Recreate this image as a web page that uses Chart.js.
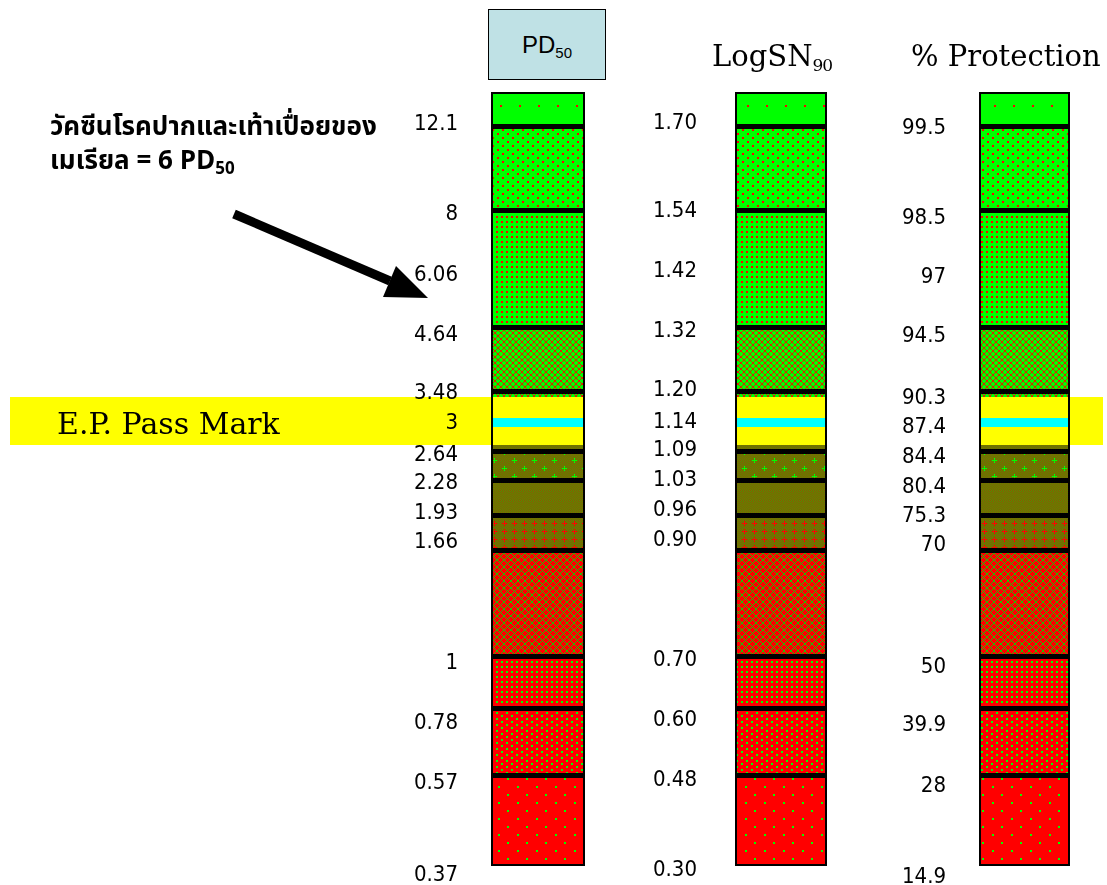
<!DOCTYPE html>
<html>
<head>
<meta charset="utf-8">
<script src="https://cdn.jsdelivr.net/npm/chart.js@4.4.1/dist/chart.umd.min.js"></script>
<style>
  html, body { margin: 0; padding: 0; background: #fff; }
  #page { position: relative; width: 1107px; height: 885px; overflow: hidden; }
  canvas { position: absolute; left: 0; top: 0; }
  .hdr { position: absolute; font-family: 'DejaVu Serif', 'Liberation Serif', serif; font-size: 29px; color: #000; white-space: nowrap; line-height: 1; }
  .hdr sub { font-size: 17px; vertical-align: -5px; letter-spacing: -1px; }
  #pdBox { position: absolute; left: 488px; top: 9px; width: 116px; height: 69px; border: 1px solid #000; background: #bfe1e5;
           font-family: 'Liberation Sans', Arial, sans-serif; font-size: 24px; line-height: 69px; text-align: center; }
  #pdBox sub { font-size: 15px; vertical-align: -5px; line-height: 0; }
  #passMark { position: absolute; left: 57px; top: 407px; font-family: 'DejaVu Serif', 'Liberation Serif', serif; font-size: 30px; line-height: 34px; white-space: nowrap; }
  #note { position: absolute; left: 50px; top: 110px; font-family: 'Noto Sans Thai', Tahoma, 'Noto Sans', 'DejaVu Sans', sans-serif;
          font-weight: bold; font-size: 26px; line-height: 34px; white-space: nowrap; }
  #note sub { font-size: 17px; vertical-align: -5px; line-height: 0; }
  svg { position: absolute; left: 0; top: 0; }
</style>
</head>
<body>
<div id="page">
  <canvas id="col1" width="1107" height="885"></canvas>
  <canvas id="col2" width="1107" height="885"></canvas>
  <canvas id="col3" width="1107" height="885"></canvas>
  <div id="pdBox">PD<sub>50</sub></div>
  <div class="hdr" style="left:712px; top:42px;">LogSN<sub>90</sub></div>
  <div class="hdr" style="left:911px; top:42px;">% Protection</div>
  <div id="passMark">E.P. Pass Mark</div>
  <div id="note">วัคซีนโรคปากและเท้าเปื่อยของ<br>เมเรียล = 6 PD<sub>50</sub></div>
  <svg width="1107" height="885">
    <line x1="234" y1="214" x2="390" y2="281" stroke="#000" stroke-width="9"/>
    <polygon points="428,298 383,297 396,266" fill="#000"/>
  </svg>
</div>
<script>
// segments of each column, bottom to top (heights in schematic units along the column)
const segmentKeys = ['r4', 'r3', 'r2', 'r1', 'o3', 'o2', 'o1', 'o1strip', 'yellowLow', 'cyan', 'yellowHigh', 'g4strip', 'g4', 'g3', 'g2', 'g1'];
const segmentHeights = [90, 67, 52, 106, 35, 35, 29, 7, 18, 9, 21, 5, 64, 117, 84, 35];

// tick labels of each column, top to bottom, and where they sit on the column
const pd50Labels = ['12.1', '8', '6.06', '4.64', '3.48', '3', '2.64', '2.28', '1.93', '1.66', '1', '0.78', '0.57', '0.37'];
const pd50At = [742, 652, 591, 531, 473, 443, 411, 383, 353, 324, 203, 143, 83, -9];
const logLabels = ['1.70', '1.54', '1.42', '1.32', '1.20', '1.14', '1.09', '1.03', '0.96', '0.90', '0.70', '0.60', '0.48', '0.30'];
const logAt = [743, 655, 595, 535, 476, 444, 416, 386, 356, 326, 206, 146, 86, -4];
const protLabels = ['99.5', '98.5', '97', '94.5', '90.3', '87.4', '84.4', '80.4', '75.3', '70', '50', '39.9', '28', '14.9'];
const protAt = [738, 648, 589, 530, 468, 439, 409, 379, 350, 321, 199, 141, 80, -11];

const total = segmentHeights.reduce((a, b) => a + b, 0);
// black dividing lines sit under these segments
const dividers = new Set([1, 2, 3, 4, 5, 6, 7, 12, 13, 14, 15]);

const RED = '#ff0000';
const GREEN = '#00ff00';
const OLIVE_R = '#905000';
const OLIVE_G = '#509400';

function tile(w, h, base, paint) {
    let c = document.createElement('canvas');
    c.width = w;
    c.height = h;
    let g = c.getContext('2d');
    g.fillStyle = base;
    g.fillRect(0, 0, w, h);
    if (paint) paint(g, w, h);
    return g.createPattern(c, 'repeat');
}
function dots(col, pts, s) {
    return function (g) {
        g.fillStyle = col;
        pts.forEach(p => g.fillRect(p[0], p[1], s || 2, s || 2));
    };
}
function checker(g, w, h) {
    g.fillStyle = OLIVE_R;
    for (let y = 0; y < h; y++) {
        for (let x = 0; x < w; x++) {
            if ((x + y) % 2 === 0) g.fillRect(x, y, 1, 1);
        }
    }
}
function plus(g, col, x, y) {
    g.fillStyle = col;
    g.fillRect(x - 2, y, 5, 1);
    g.fillRect(x, y - 2, 1, 5);
}
function xhatch(col) {
    return function (g, w) {
        g.fillStyle = col;
        for (let i = 0; i < w; i++) {
            g.fillRect(i, i, 1, 1);
            g.fillRect(w - 1 - i, i, 1, 1);
        }
    };
}

const fills = {
    r4: tile(19, 16, RED, dots(GREEN, [[4, 2], [13, 10]])),
    r3: tile(10, 6, RED, dots(GREEN, [[1, 1], [6, 4]])),
    r2: tile(5, 5, RED, dots(GREEN, [[1, 1]])),
    r1: tile(7, 7, RED, xhatch('#20c000')),
    o3: tile(10, 8, OLIVE_G, (g, w, h) => { checker(g, w, h); plus(g, RED, 4, 3); }),
    o2: tile(2, 2, OLIVE_G, checker),
    o1: tile(20, 16, OLIVE_G, (g, w, h) => { checker(g, w, h); plus(g, GREEN, 4, 4); plus(g, GREEN, 14, 12); }),
    o1strip: tile(2, 2, OLIVE_G, checker),
    yellowLow: '#ffff00',
    cyan: '#00ffff',
    yellowHigh: '#ffff00',
    g4strip: tile(6, 6, GREEN, xhatch('#e02000')),
    g4: tile(6, 6, GREEN, xhatch('#e02000')),
    g3: tile(5, 5, GREEN, dots(RED, [[1, 1]])),
    g2: tile(10, 8, GREEN, dots(RED, [[2, 1], [7, 5]])),
    g1: tile(19, 19, GREEN, dots(RED, [[6, 10]]))
};

function edgeWidths(i) {
    let last = segmentKeys.length - 1;
    return {
        left: 2,
        right: 2,
        bottom: i === 0 ? 2 : (dividers.has(i) ? 3 : 0),
        top: i === last ? 2 : (dividers.has(i + 1) ? 2 : 0)
    };
}

// yellow pass-mark band, from the yellow segments
let bandLow = 0;
for (let i = 0; i < segmentKeys.indexOf('yellowLow'); i++) bandLow += segmentHeights[i];
let bandHigh = bandLow + segmentHeights[8] + segmentHeights[9] + segmentHeights[10];

const passBand = {
    id: 'passBand',
    beforeDraw(chart, args, opts) {
        if (!opts.side) return;
        let ctx = chart.ctx;
        let a = chart.chartArea;
        let y = chart.scales.y;
        let top = y.getPixelForValue(bandHigh);
        let bot = y.getPixelForValue(bandLow);
        ctx.save();
        ctx.fillStyle = '#ffff00';
        if (opts.side === 'left') ctx.fillRect(10, top, a.left - 10, bot - top);
        else ctx.fillRect(a.right, top, 1103 - a.right, bot - top);
        ctx.restore();
    }
};

function buildColumn(id, name, labels, at, axisWidth, barRight, gap, side) {
    return new Chart(document.getElementById(id), {
        type: 'bar',
        data: {
            labels: [name],
            datasets: segmentKeys.map((key, i) => ({
                label: key,
                data: [segmentHeights[i]],
                backgroundColor: fills[key],
                borderColor: '#000',
                borderWidth: edgeWidths(i),
                borderSkipped: false,
                inflateAmount: 0,
                barPercentage: 1,
                categoryPercentage: 1
            }))
        },
        options: {
            responsive: false,
            animation: false,
            devicePixelRatio: 1,
            layout: { padding: { top: 92, bottom: 19, left: 0, right: 1107 - barRight } },
            plugins: {
                legend: { display: false },
                tooltip: { enabled: false },
                passBand: { side: side }
            },
            scales: {
                x: { stacked: true, display: false },
                y: {
                    stacked: true,
                    min: 0,
                    max: total,
                    border: { display: false },
                    grid: { display: false, drawTicks: false },
                    afterBuildTicks: s => { s.ticks = at.map(v => ({ value: v })); },
                    afterFit: s => {
                        s.width = axisWidth;
                        s.paddingTop = 12;
                        s.paddingBottom = 12;
                    },
                    ticks: {
                        autoSkip: false,
                        padding: gap,
                        color: '#000',
                        font: { family: "'Liberation Sans Narrow', 'Arial Narrow', 'DejaVu Sans Condensed', sans-serif", size: 22 },
                        callback: (v, i) => labels[i]
                    }
                }
            }
        },
        plugins: [passBand]
    });
}

buildColumn('col1', 'PD50', pd50Labels, pd50At, 491, 585, 33, 'left');
buildColumn('col2', 'LogSN90', logLabels, logAt, 735, 827, 38, null);
buildColumn('col3', '% Protection', protLabels, protAt, 979, 1070, 33, 'right');
</script>
</body>
</html>
